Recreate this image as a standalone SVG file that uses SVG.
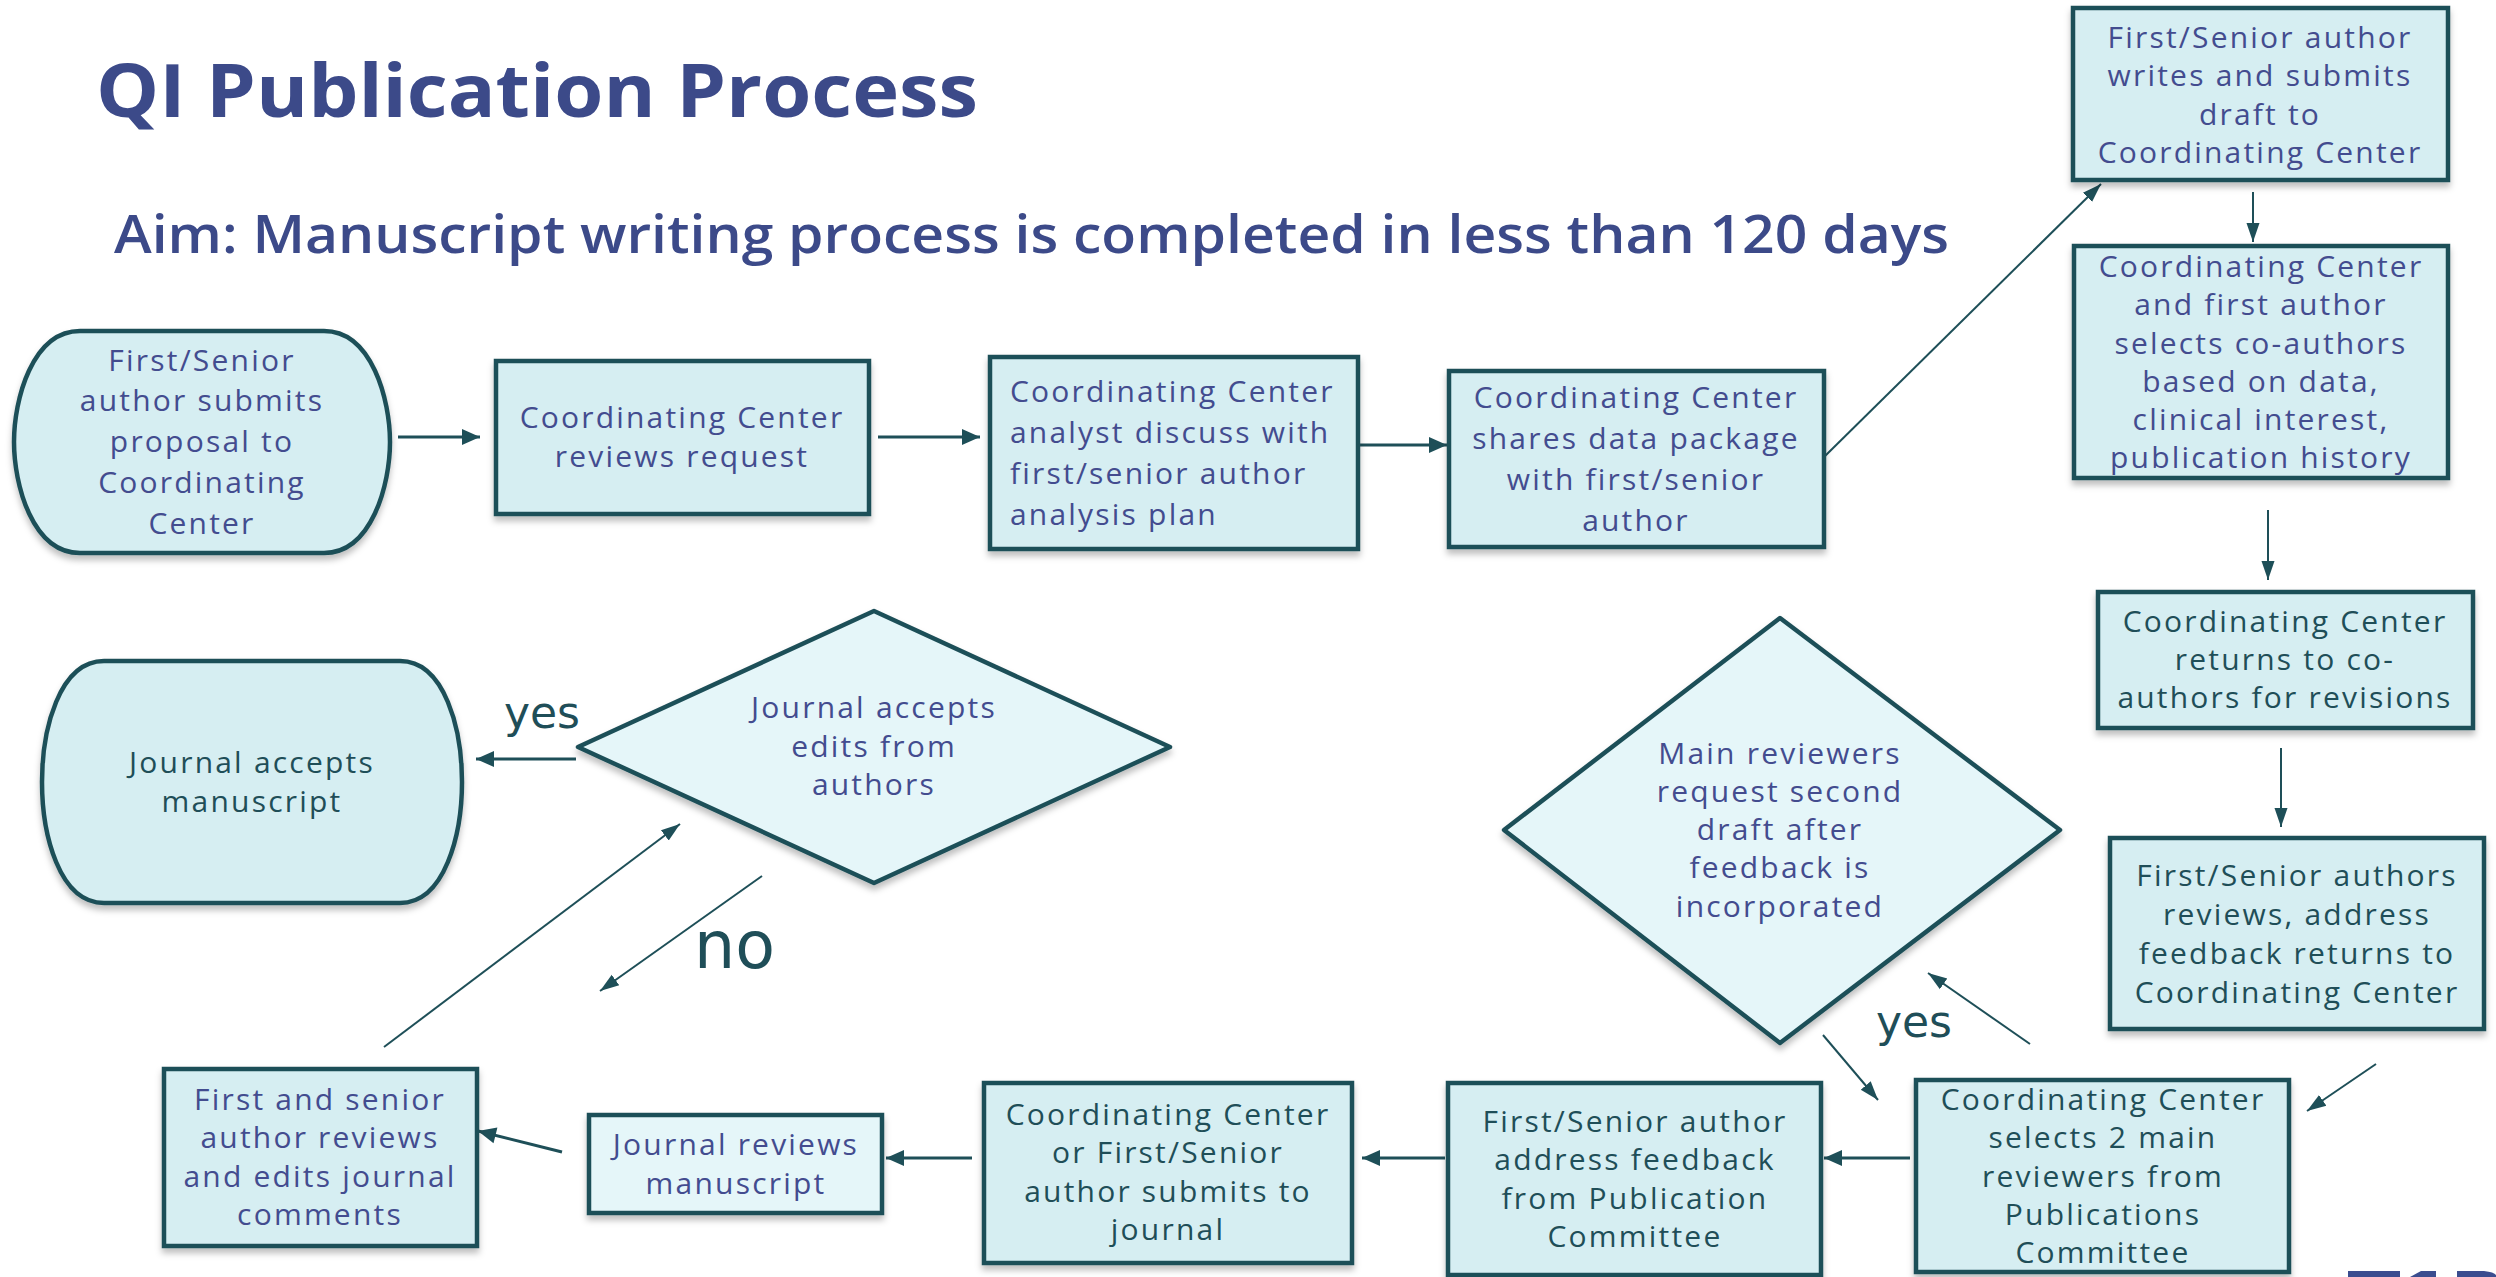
<svg xmlns="http://www.w3.org/2000/svg" width="2496" height="1277" viewBox="0 0 2496 1277">
<defs>
<style>
.box{fill:#d6eef2;stroke:#1e4f58;stroke-width:4.5}
.lt{fill:#e5f6f9}
.t{font-family:"Open Sans","Liberation Sans",sans-serif;font-size:30px;letter-spacing:2.2px;text-anchor:middle}
.s{text-anchor:start}
.b{fill:#434c8f}
.g{fill:#1f4e58}
.c{stroke:#1e4f58;fill:none}
.k{stroke-width:3;marker-end:url(#ah)}
.n{stroke-width:2;marker-end:url(#as)}
.lbl{font-family:"DejaVu Sans",sans-serif;fill:#1f4e58}
.hd{font-family:"Open Sans","Liberation Sans",sans-serif;fill:#3c4a89}
</style>
<filter id="sh" x="-10%" y="-10%" width="120%" height="130%">
<feDropShadow dx="0" dy="5" stdDeviation="3" flood-color="#000" flood-opacity="0.25"/>
</filter>
<marker id="ah" markerUnits="userSpaceOnUse" markerWidth="20" markerHeight="20" viewBox="0 0 20 20" refX="19" refY="10" orient="auto">
<path d="M1,2 L19,10 L1,18 Z" fill="#1e4f58"/>
</marker>
<marker id="as" markerUnits="userSpaceOnUse" markerWidth="20" markerHeight="16" viewBox="0 0 20 16" refX="19" refY="8" orient="auto">
<path d="M0,1.5 L19,8 L0,14.5 Z" fill="#1e4f58"/>
</marker>
</defs>
<rect width="2496" height="1277" fill="#ffffff"/>

<text class="hd" x="96" y="117" font-size="73" font-weight="700" textLength="882" lengthAdjust="spacingAndGlyphs">QI Publication Process</text>
<text class="hd" x="114" y="253" font-size="52" font-weight="600" textLength="1835" lengthAdjust="spacingAndGlyphs">Aim: Manuscript writing process is completed in less than 120 days</text>

<g id="connectors">
<path class="c k" d="M398,437 L480,437"/>
<path class="c k" d="M878,437 L980,437"/>
<path class="c k" d="M1359,445 L1447,445"/>
<path class="c n" d="M1824,457 L2101,184"/>
<path class="c n" d="M2253,192 L2253,242"/>
<path class="c n" d="M2268,510 L2268,580"/>
<path class="c n" d="M2281,748 L2281,827"/>
<path class="c n" d="M2376,1064 L2307,1111"/>
<path class="c n" d="M2030,1044 L1928,973"/>
<path class="c n" d="M1823,1035 L1878,1100"/>
<path class="c k" d="M1910,1158 L1824,1158"/>
<path class="c k" d="M1445,1158 L1362,1158"/>
<path class="c k" d="M972,1158 L886,1158"/>
<path class="c k" d="M562,1152 L478,1131"/>
<path class="c n" d="M384,1047 L680,824"/>
<path class="c n" d="M762,876 L600,991"/>
<path class="c k" d="M576,759 L476,759"/>
<text class="lbl" x="504" y="728" font-size="44">yes</text>
<text class="lbl" x="1876" y="1037" font-size="44">yes</text>
<text class="lbl" x="694" y="968" font-size="65">no</text>
</g>

<g id="n1">
<path class="box" filter="url(#sh)" d="M80,331 H324 C372,331 390,400 390,442 C390,484 372,553 324,553 H80 C32,553 14,484 14,442 C14,400 32,331 80,331 Z"/>
<text class="t b"><tspan x="202" y="371">First/Senior</tspan><tspan x="202" y="411">author submits</tspan><tspan x="202" y="452">proposal to</tspan><tspan x="202" y="493">Coordinating</tspan><tspan x="202" y="534">Center</tspan></text>
</g>

<g id="n2">
<rect class="box" filter="url(#sh)" x="496" y="361" width="373" height="153"/>
<text class="t b"><tspan x="682" y="428">Coordinating Center</tspan><tspan x="682" y="467">reviews request</tspan></text>
</g>

<g id="n3">
<rect class="box" filter="url(#sh)" x="990" y="357" width="368" height="192"/>
<text class="t s b"><tspan x="1010" y="402">Coordinating Center</tspan><tspan x="1010" y="443">analyst discuss with</tspan><tspan x="1010" y="484">first/senior author</tspan><tspan x="1010" y="525">analysis plan</tspan></text>
</g>

<g id="n4">
<rect class="box" filter="url(#sh)" x="1449" y="371" width="375" height="176"/>
<text class="t b"><tspan x="1636" y="408">Coordinating Center</tspan><tspan x="1636" y="449">shares data package</tspan><tspan x="1636" y="490">with first/senior</tspan><tspan x="1636" y="531">author</tspan></text>
</g>

<g id="n5">
<rect class="box" filter="url(#sh)" x="2073" y="8" width="375" height="172"/>
<text class="t b"><tspan x="2260" y="48">First/Senior author</tspan><tspan x="2260" y="86">writes and submits</tspan><tspan x="2260" y="125">draft to</tspan><tspan x="2260" y="163">Coordinating Center</tspan></text>
</g>

<g id="n6">
<rect class="box" filter="url(#sh)" x="2074" y="246" width="374" height="232"/>
<text class="t b"><tspan x="2261" y="277">Coordinating Center</tspan><tspan x="2261" y="315">and first author</tspan><tspan x="2261" y="354">selects co-authors</tspan><tspan x="2261" y="392">based on data,</tspan><tspan x="2261" y="430">clinical interest,</tspan><tspan x="2261" y="468">publication history</tspan></text>
</g>

<g id="n7">
<rect class="box" filter="url(#sh)" x="2098" y="592" width="375" height="136"/>
<text class="t g"><tspan x="2285" y="632">Coordinating Center</tspan><tspan x="2285" y="670">returns to co-</tspan><tspan x="2285" y="708">authors for revisions</tspan></text>
</g>

<g id="n8">
<rect class="box" filter="url(#sh)" x="2110" y="838" width="374" height="191"/>
<text class="t g"><tspan x="2297" y="886">First/Senior authors</tspan><tspan x="2297" y="925">reviews, address</tspan><tspan x="2297" y="964">feedback returns to</tspan><tspan x="2297" y="1003">Coordinating Center</tspan></text>
</g>

<g id="n9">
<rect class="box" filter="url(#sh)" x="1916" y="1080" width="373" height="192"/>
<text class="t g"><tspan x="2103" y="1110">Coordinating Center</tspan><tspan x="2103" y="1148">selects 2 main</tspan><tspan x="2103" y="1187">reviewers from</tspan><tspan x="2103" y="1225">Publications</tspan><tspan x="2103" y="1263">Committee</tspan></text>
</g>

<g id="n10">
<path class="box lt" filter="url(#sh)" d="M1780,618 L2060,830 L1780,1043 L1504,830 Z" stroke-linejoin="round"/>
<text class="t b"><tspan x="1780" y="764">Main reviewers</tspan><tspan x="1780" y="802">request second</tspan><tspan x="1780" y="840">draft after</tspan><tspan x="1780" y="878">feedback is</tspan><tspan x="1780" y="917">incorporated</tspan></text>
</g>

<g id="n11">
<rect class="box" filter="url(#sh)" x="1448" y="1083" width="373" height="192"/>
<text class="t g"><tspan x="1635" y="1132">First/Senior author</tspan><tspan x="1635" y="1170">address feedback</tspan><tspan x="1635" y="1209">from Publication</tspan><tspan x="1635" y="1247">Committee</tspan></text>
</g>

<g id="n12">
<rect class="box" filter="url(#sh)" x="984" y="1083" width="368" height="180"/>
<text class="t g"><tspan x="1168" y="1125">Coordinating Center</tspan><tspan x="1168" y="1163">or First/Senior</tspan><tspan x="1168" y="1202">author submits to</tspan><tspan x="1168" y="1240">journal</tspan></text>
</g>

<g id="n13">
<rect class="box lt" filter="url(#sh)" x="589" y="1115" width="293" height="98"/>
<text class="t b"><tspan x="736" y="1155">Journal reviews</tspan><tspan x="736" y="1194">manuscript</tspan></text>
</g>

<g id="n14">
<rect class="box" filter="url(#sh)" x="164" y="1069" width="313" height="177"/>
<text class="t b"><tspan x="320" y="1110">First and senior</tspan><tspan x="320" y="1148">author reviews</tspan><tspan x="320" y="1187">and edits journal</tspan><tspan x="320" y="1225">comments</tspan></text>
</g>

<g id="n15">
<path class="box lt" filter="url(#sh)" d="M874,611 L1170,747 L874,883 L578,747 Z" stroke-linejoin="round"/>
<text class="t b"><tspan x="874" y="718">Journal accepts</tspan><tspan x="874" y="757">edits from</tspan><tspan x="874" y="795">authors</tspan></text>
</g>

<g id="n16">
<path class="box" filter="url(#sh)" d="M104,661 H400 C445,661 462,730 462,782 C462,834 445,903 400,903 H104 C59,903 42,834 42,782 C42,730 59,661 104,661 Z"/>
<text class="t g"><tspan x="252" y="773">Journal accepts</tspan><tspan x="252" y="812">manuscript</tspan></text>
</g>

<g id="logo" fill="#3b4d8f">
<rect x="2348" y="1271" width="52" height="6"/>
<path d="M2410,1277 L2421,1271 L2436,1271 L2436,1277 Z"/>
<path d="M2457,1271 H2484 Q2494,1272 2496,1275 V1277 H2457 Z"/>
</g>
</svg>
